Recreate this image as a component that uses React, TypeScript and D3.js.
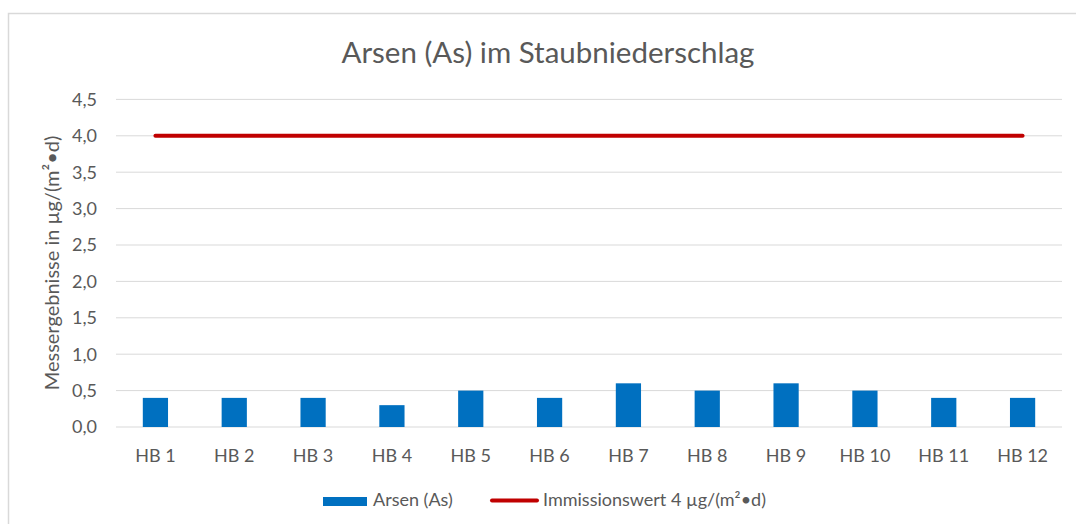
import React from "react";
import * as d3 from "d3";

const categories = ["HB 1", "HB 2", "HB 3", "HB 4", "HB 5", "HB 6", "HB 7", "HB 8", "HB 9", "HB 10", "HB 11", "HB 12"];
const arsenValues = [0.4, 0.4, 0.4, 0.3, 0.5, 0.4, 0.6, 0.5, 0.6, 0.5, 0.4, 0.4];
const limitValue = 4.0;
const yTicks = [0, 0.5, 1.0, 1.5, 2.0, 2.5, 3.0, 3.5, 4.0, 4.5];

const W = 1076;
const H = 524;
const FONT = "Lato, 'Open Sans', sans-serif";
const TXT = "#595959";

export default function App() {
  const left = 116, right = 1062, top = 99.4, bottom = 427;

  const x = d3.scaleBand<string>()
    .domain(categories)
    .range([left, right])
    .paddingInner(0.68)
    .paddingOuter(0.34);
  const xc = d3.scaleBand<string>().domain(categories).range([left, right]);
  const y = d3.scaleLinear().domain([0, 4.5]).range([bottom, top]);

  const fmt = (v: number) => v.toFixed(1).replace(".", ",");

  const limitLine = d3.line<string>()
    .x((d) => (xc(d) as number) + xc.bandwidth() / 2)
    .y(() => y(limitValue));

  return (
    <svg width={W} height={H} style={{ position: "absolute", left: 0, top: 0, background: "#fff" }}>
      {/* chart frame */}
      <rect x={8.5} y={13.5} width={W + 10} height={H + 10} fill="none" stroke="#d9d9d9" strokeWidth={1.5} />

      <text x={548} y={63} textAnchor="middle" fontFamily={FONT} fontSize={29.5} fill={TXT}>
        Arsen (As) im Staubniederschlag
      </text>

      {/* gridlines */}
      {yTicks.map((t) => (
        <line key={t} x1={left} x2={right} y1={y(t)} y2={y(t)} stroke="#d9d9d9" strokeWidth={1} />
      ))}
      {yTicks.map((t) => (
        <text key={"l" + t} x={97} y={y(t)} dy="0.35em" textAnchor="end" fontFamily={FONT} fontSize={18} fill={TXT}>
          {fmt(t)}
        </text>
      ))}

      <text
        transform={`translate(52, 263) rotate(-90)`}
        textAnchor="middle"
        dy="0.35em"
        fontFamily={FONT}
        fontSize={20}
        fill={TXT}
      >
        Messergebnisse in µg/(m²•d)
      </text>

      {/* bars */}
      {categories.map((c, i) => (
        <rect
          key={c}
          x={x(c)}
          y={y(arsenValues[i])}
          width={x.bandwidth()}
          height={y(0) - y(arsenValues[i])}
          fill="#0070c0"
        />
      ))}

      {/* limit line */}
      <path d={limitLine(categories) || ""} fill="none" stroke="#c00000" strokeWidth={4} strokeLinecap="round" />

      {categories.map((c) => (
        <text
          key={"x" + c}
          x={(xc(c) as number) + xc.bandwidth() / 2}
          y={456}
          dy="0.35em"
          textAnchor="middle"
          fontFamily={FONT}
          fontSize={18}
          fill={TXT}
        >
          {c}
        </text>
      ))}

      {/* legend */}
      <rect x={323} y={497} width={44} height={9} fill="#0070c0" />
      <text x={373} y={500} dy="0.35em" fontFamily={FONT} fontSize={18} fill={TXT}>Arsen (As)</text>
      <line x1={492} x2={537} y1={500.5} y2={500.5} stroke="#c00000" strokeWidth={4} strokeLinecap="round" />
      <text x={543} y={500} dy="0.35em" fontFamily={FONT} fontSize={18} fill={TXT}>Immissionswert 4 µg/(m²•d)</text>
    </svg>
  );
}
